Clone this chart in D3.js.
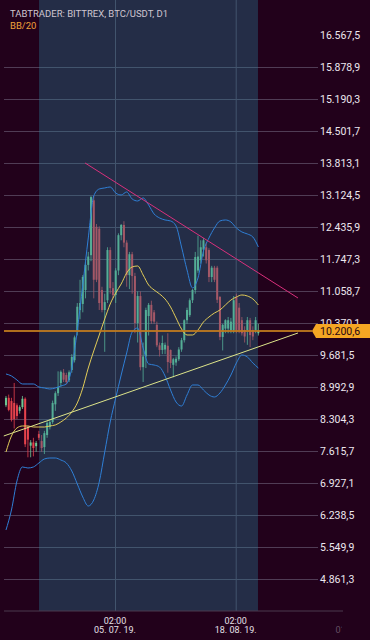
<!DOCTYPE html>
<html>
<head>
<meta charset="utf-8">
<script src="https://cdn.jsdelivr.net/npm/d3@7"></script>
<style>
  html, body { margin: 0; padding: 0; background: #22011b; }
  #chart { width: 370px; height: 640px; }
  text { font-family: Roboto, "Noto Sans", sans-serif; }
</style>
</head>
<body>
<div id="chart"></div>
<script>
// daily candles, 26.05.19 - 26.08.19
const firstDay = new Date(Date.UTC(2019, 4, 26));
const lastDay = new Date(Date.UTC(2019, 7, 27));

const open = [8600, 8760, 8690, 8650, 8600, 8480, 8560, 8740, 8130, 7730,
  7800, 7720, 7980, 7830, 7700, 7960, 8130, 8240, 8620, 8860,
  9080, 9300, 9250, 9140, 9360, 9570, 10180, 10650, 10780, 11080,
  11620, 11830, 13010, 12440, 12400, 11080, 10650, 10860, 11940, 11120,
  10970, 11500, 12260, 12480, 12100, 11400, 11850, 11380, 10370, 10950,
  9420, 9650, 10520, 10760, 10600, 10330, 9890, 9790, 9800, 9880,
  9790, 9470, 9520, 9590, 9800, 10000, 10430, 10540, 10860, 11080,
  11500, 11720, 11950, 12000, 11940, 11360, 11560, 11560, 10930, 10070,
  10250, 10250, 10220, 10220, 10930, 10700, 10430, 10220, 10220, 10430,
  10220, 10220, 10150];
const high = [8800, 8830, 8760, 9080, 8640, 8600, 8800, 8770, 8160, 7850,
  7900, 7830, 8050, 7960, 8050, 8260, 8300, 8700, 8900, 9330,
  9350, 9380, 9300, 9350, 9700, 10100, 10800, 11300, 11400, 11700,
  11900, 13100, 13100, 12500, 12450, 11150, 11000, 12000, 12000, 11250,
  11550, 12300, 12500, 12560, 12150, 11900, 11900, 11450, 11050, 11050,
  9950, 10700, 10800, 10850, 10650, 10400, 9950, 10100, 9950, 10150,
  9800, 9620, 9650, 9850, 10050, 10450, 10700, 10900, 11100, 11900,
  12250, 12150, 12200, 12100, 11980, 11600, 11600, 11600, 10950, 10350,
  10450, 10500, 10480, 10950, 11000, 10800, 10500, 10300, 10500, 10480,
  10300, 10500, 10350];
const low = [8560, 8470, 8250, 8100, 8300, 8420, 8520, 7700, 7480, 7480,
  7500, 7600, 7850, 7600, 7550, 7900, 8080, 8200, 8480, 8800,
  9000, 9100, 9050, 9100, 9300, 9520, 10100, 10450, 10600, 10900,
  11500, 11700, 10900, 11250, 10650, 10600, 9750, 10800, 11000, 10900,
  10800, 11400, 12150, 12000, 11150, 11100, 11000, 10150, 9950, 9350,
  9100, 9400, 10100, 10350, 10350, 9850, 9650, 9700, 9700, 9300,
  9400, 9200, 9450, 9550, 9750, 9950, 10350, 10500, 10800, 11000,
  11450, 11650, 11800, 11650, 11250, 11250, 11250, 10800, 10000, 9780,
  10150, 10150, 10150, 10150, 10150, 10150, 10100, 9950, 9900, 9850,
  10000, 10150, 10100];
const close = [8760, 8500, 8290, 8300, 8370, 8560, 8740, 7760, 7860, 7800,
  7680, 7790, 7900, 7680, 8000, 8220, 8240, 8650, 8860, 8990,
  9320, 9150, 9100, 9310, 9640, 10060, 10720, 10800, 11360, 11620,
  11800, 13080, 11300, 11300, 10800, 10650, 10820, 11940, 11120, 10970,
  11500, 12260, 12480, 12100, 11400, 11850, 11380, 10370, 10950, 9420,
  9650, 10650, 10760, 10410, 10400, 9890, 9790, 9940, 9900, 9530,
  9510, 9590, 9600, 9800, 10000, 10430, 10650, 10860, 11080, 11790,
  11800, 12000, 12150, 11720, 11360, 11560, 11300, 10870, 10070, 10330,
  10430, 10430, 10400, 10860, 10220, 10220, 10150, 10080, 10430, 10110,
  10080, 10430, 10200.6];

// Bollinger bands (20), read every second day
const bbUpper = [9273, 9230, 9144, 9058, 9058, 9058, 8993, 8972, 8950, 8972,
  9015, 9058, 9402, 10220, 11188, 12200, 13104, 13254, 13276, 13297,
  13168, 13125, 13190, 13039, 12996, 13061, 12910, 12716, 12630, 12587,
  12566, 12458, 12006, 11511, 11124, 11339, 11920, 12200, 12415, 12566,
  12587, 12544, 12415, 12329, 12286, 12221, 12006];
const bbMiddle = [7594, 7939, 8111, 8154, 8154, 8132, 8132, 8132, 8154, 8176,
  8240, 8326, 8455, 8649, 8972, 9402, 9768, 10112, 10457, 10779,
  11016, 11210, 11447, 11576, 11597, 11403, 11188, 11081, 10995, 10887,
  10715, 10478, 10241, 10112, 10112, 10220, 10392, 10499, 10585, 10650,
  10758, 10865, 10930, 10973, 10951, 10887, 10758];
const bbLower = [5916, 6346, 6970, 7272, 7250, 7272, 7358, 7444, 7465, 7465,
  7422, 7358, 7186, 6906, 6626, 6432, 6561, 6949, 7594, 8240,
  8756, 9251, 9725, 10177, 10263, 9832, 9488, 9466, 9423, 9230,
  8928, 8670, 8584, 8821, 9036, 9036, 8928, 8821, 8778, 8864,
  9036, 9251, 9510, 9682, 9639, 9510, 9402];

// drawn trend lines [time, price]
const resistance = [[Date.UTC(2019, 5, 24, 2), 13814], [Date.UTC(2019, 8, 9, 17), 10908]];
const support = [[Date.UTC(2019, 4, 25, 11), 7939], [Date.UTC(2019, 8, 9, 17), 10155]];

const yTicks = [4861.3, 5549.9, 6238.5, 6927.1, 7615.7, 8304.3, 8992.9, 9681.5, 10370.1,
  11058.7, 11747.3, 12435.9, 13124.5, 13813.1, 14501.7, 15190.3, 15878.9, 16567.5];
const xTicks = [Date.UTC(2019, 6, 5), Date.UTC(2019, 7, 18), Date.UTC(2019, 9, 1)];
const highlight = [Date.UTC(2019, 5, 7, 7), Date.UTC(2019, 7, 26, 3)];
const lastPrice = 10200.6;

const width = 370, height = 640;
const plot = { left: 4, right: 318, top: 0, bottom: 611 };

const svg = d3.select("#chart").append("svg")
  .attr("width", width)
  .attr("height", height);

const days = d3.utcDay.range(firstDay, lastDay);
const bbDays = days.filter((d, i) => i % 2 === 0);

const xScale = d3.scaleUtc()
  .domain([new Date(xTicks[0]), new Date(xTicks[1])])
  .range([115, 235.7]);
const yScale = d3.scaleLinear()
  .domain([4172.7, 16567.5])
  .range([plot.bottom, 35]);

const cx = d => xScale(d) + 0.7;
const de = d3.formatLocale({ decimal: ",", thousands: ".", grouping: [3], currency: ["", ""] });
const fmt = de.format(",.1f");

svg.append("rect").attr("width", width).attr("height", height).attr("fill", "#22011b");

// grid
svg.append("g")
  .attr("transform", `translate(${plot.left},0)`)
  .call(d3.axisRight(yScale).tickValues(yTicks.slice(0, -1)).tickSize(plot.right - plot.left).tickFormat(""))
  .call(g => g.select(".domain").remove())
  .selectAll("line").attr("stroke", "#503c55");

svg.append("g")
  .call(d3.axisBottom(xScale).tickValues(xTicks.slice(0, 2).map(t => new Date(t))).tickSize(plot.bottom).tickFormat(""))
  .call(g => g.select(".domain").remove())
  .selectAll("line").attr("stroke", "#503c55");

// candles
const candles = svg.append("g").selectAll("g")
  .data(days)
  .join("g");

candles.append("line")
  .attr("x1", d => cx(d)).attr("x2", d => cx(d))
  .attr("y1", (d, i) => yScale(high[i]))
  .attr("y2", (d, i) => yScale(low[i]))
  .attr("stroke", (d, i) => close[i] >= open[i] ? "#6cc794" : "#e6434c")
  .attr("stroke-width", 0.8);

candles.append("rect")
  .attr("x", d => cx(d) - 1)
  .attr("width", 2)
  .attr("y", (d, i) => yScale(Math.max(open[i], close[i])))
  .attr("height", (d, i) => Math.max(1, Math.abs(yScale(open[i]) - yScale(close[i]))))
  .attr("fill", (d, i) => close[i] >= open[i] ? "#6cc794" : "#e6434c");

// visible range highlight
svg.append("rect")
  .attr("x", xScale(new Date(highlight[0])))
  .attr("width", xScale(new Date(highlight[1])) - xScale(new Date(highlight[0])))
  .attr("y", plot.top)
  .attr("height", plot.bottom - plot.top)
  .attr("fill", "rgb(41,130,154)")
  .attr("fill-opacity", 0.35);

// bollinger bands
const bbLine = d3.line()
  .x((d, i) => cx(bbDays[i]))
  .y(d => yScale(d))
  .curve(d3.curveMonotoneX);

svg.append("path").attr("d", bbLine(bbUpper)).attr("fill", "none").attr("stroke", "#2f7fd6").attr("stroke-width", 1);
svg.append("path").attr("d", bbLine(bbLower)).attr("fill", "none").attr("stroke", "#2f7fd6").attr("stroke-width", 1);
svg.append("path").attr("d", bbLine(bbMiddle)).attr("fill", "none").attr("stroke", "#e3cd58").attr("stroke-width", 1);

// trend lines
const trend = d3.line().x(d => xScale(new Date(d[0]))).y(d => yScale(d[1]));
svg.append("path").attr("d", trend(resistance)).attr("fill", "none").attr("stroke", "#d9307c").attr("stroke-width", 1);
svg.append("path").attr("d", trend(support)).attr("fill", "none").attr("stroke", "#dde48a").attr("stroke-width", 1);

// last price line
svg.append("line")
  .attr("x1", plot.left).attr("x2", 312)
  .attr("y1", yScale(lastPrice)).attr("y2", yScale(lastPrice))
  .attr("stroke", "#c07a1e").attr("stroke-width", 2).attr("stroke-opacity", 0.9);

// price axis
svg.append("g")
  .attr("transform", `translate(${plot.right},0)`)
  .call(d3.axisRight(yScale).tickValues(yTicks).tickSize(0).tickPadding(2).tickFormat(fmt))
  .call(g => g.select(".domain").remove())
  .selectAll("text")
  .attr("fill", "#ece6ee")
  .attr("font-size", "10.5px");

// last price tag
const py = yScale(lastPrice);
svg.append("path")
  .attr("d", `M312,${py} L316,${py - 7} L370,${py - 7} L370,${py + 7} L316,${py + 7} Z`)
  .attr("fill", "#f5a623");
svg.append("text")
  .attr("x", 320).attr("y", py)
  .attr("dy", "0.35em")
  .attr("font-size", "10.5px")
  .attr("fill", "#2a0712")
  .text(fmt(lastPrice));

// time axis
svg.append("line")
  .attr("x1", plot.left).attr("x2", 343)
  .attr("y1", plot.bottom).attr("y2", plot.bottom)
  .attr("stroke", "#4a3a4e");

svg.append("clipPath").attr("id", "timeClip")
  .append("rect").attr("x", 0).attr("y", 600).attr("width", 342).attr("height", 40);

const tickLabels = svg.append("g").attr("clip-path", "url(#timeClip)")
  .selectAll("text")
  .data(xTicks)
  .join("text")
  .attr("text-anchor", "middle")
  .attr("font-size", "9px")
  .attr("fill", "#e6e0e8")
  .attr("fill-opacity", (d, i) => i === 2 ? 0.35 : 1);

tickLabels.append("tspan")
  .attr("x", d => xScale(new Date(d)))
  .attr("y", 624)
  .text(d => d3.utcFormat("%H:%M")(d3.utcHour.offset(new Date(d), 2)));
tickLabels.append("tspan")
  .attr("x", d => xScale(new Date(d)))
  .attr("y", 633)
  .text(d => d3.utcFormat("%d. %m. %y.")(new Date(d)));

// header
svg.append("text")
  .attr("x", 10).attr("y", 17)
  .attr("font-size", "9.5px")
  .attr("fill", "#cfc6d0")
  .text("TABTRADER: BITTREX, BTC/USDT, D1");
svg.append("text")
  .attr("x", 10).attr("y", 28.5)
  .attr("font-size", "9.5px")
  .attr("fill", "#f0a23a")
  .text("BB/20");
</script>
</body>
</html>
